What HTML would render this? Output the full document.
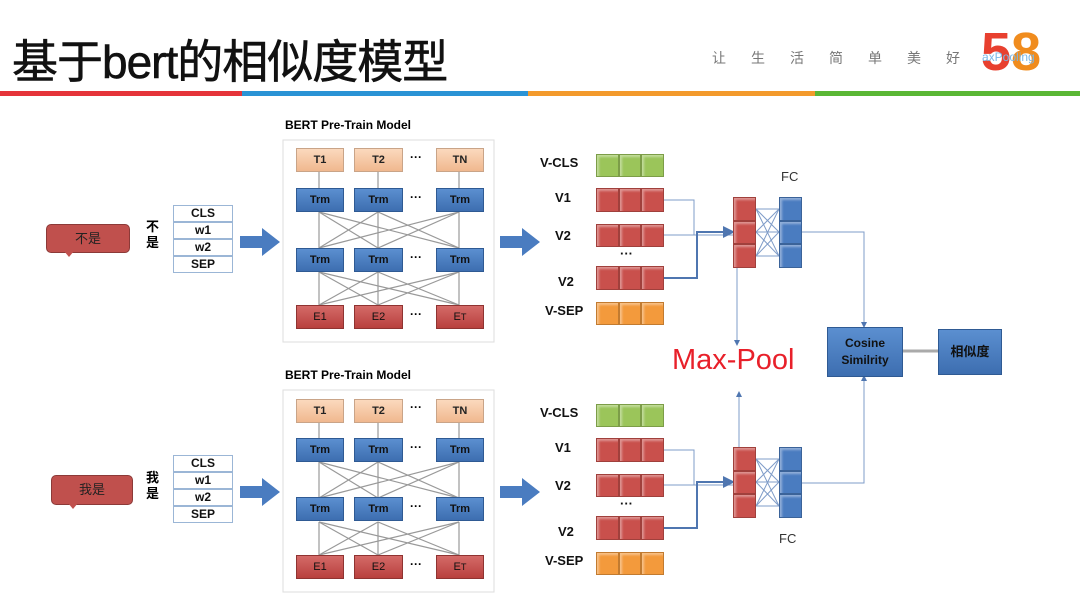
<!DOCTYPE html>
<html><head><meta charset="utf-8"><style>
body{margin:0;width:1080px;height:606px;background:#fff;position:relative;overflow:hidden;font-family:"Liberation Sans","Noto Sans CJK SC",sans-serif}
.a{position:absolute}
.t{background:linear-gradient(#fbd9bd,#f0b88f);border:1px solid #c9a488;font-size:11px;font-weight:bold;text-align:center;line-height:22px;color:#222}
.m{background:linear-gradient(#5b8fd0,#3d6eb0);border:1px solid #2f5a93;font-size:11px;font-weight:bold;text-align:center;line-height:22px;color:#111}
.e{background:linear-gradient(#d46a68,#b8403d);border:1px solid #8f3331;font-size:11px;text-align:center;line-height:22px;color:#111}
.lbl{font-size:13px;font-weight:bold;color:#111}
.bar{display:flex}
.bar div{flex:1;border:1px solid rgba(0,0,0,.2);box-shadow:inset 2px 2px 2px rgba(255,255,255,.4)}
.tok{border:1px solid #9bb6d6;font-size:12px;font-weight:bold;text-align:center;line-height:15px;height:15px;width:58px;color:#111}
.d{position:absolute;font-size:12px;font-weight:bold}
</style></head><body>
<div class="a" style="left:12px;top:26px;font-size:46px;color:#111;letter-spacing:-1px;-webkit-text-stroke:0.6px #111">基于bert的相似度模型</div>
<div class="a" style="left:712px;top:48px;font-size:14px;color:#777;letter-spacing:25px">让生活简单美好</div>
<div class="a" style="left:981px;top:26px;font-size:54px;font-weight:bold;line-height:52px"><span style="color:#e8402f">5</span><span style="color:#f08c1e">8</span></div>
<div class="a" style="left:982px;top:50px;font-size:12px;color:#7ab8e8">axPooling</div>
<div class="a" style="left:0;top:91px;width:242px;height:5px;background:#e5343a"></div>
<div class="a" style="left:242px;top:91px;width:286px;height:5px;background:#2a93d5"></div>
<div class="a" style="left:528px;top:91px;width:287px;height:5px;background:#f39a2c"></div>
<div class="a" style="left:815px;top:91px;width:265px;height:5px;background:#5ab735"></div>

<svg class="a" style="left:0;top:0" width="1080" height="606">
<defs><marker id="ar" markerWidth="6" markerHeight="6" refX="5" refY="3" orient="auto"><path d="M0,0L6,3L0,6z" fill="#4f76b0"/></marker></defs>
<g id="bert1">
<rect x="283" y="140" width="211" height="202" fill="none" stroke="#ddd"/>
<g stroke="#999" stroke-width="1.2">
<line x1="319" y1="172" x2="319" y2="188"/><line x1="378" y1="172" x2="378" y2="188"/><line x1="459" y1="172" x2="459" y2="188"/>
<line x1="319" y1="212" x2="319" y2="248"/><line x1="378" y1="212" x2="378" y2="248"/><line x1="459" y1="212" x2="459" y2="248"/>
<line x1="319" y1="212" x2="378" y2="248"/><line x1="319" y1="212" x2="459" y2="248"/><line x1="378" y1="212" x2="319" y2="248"/><line x1="378" y1="212" x2="459" y2="248"/><line x1="459" y1="212" x2="319" y2="248"/><line x1="459" y1="212" x2="378" y2="248"/>
<line x1="319" y1="272" x2="319" y2="305"/><line x1="378" y1="272" x2="378" y2="305"/><line x1="459" y1="272" x2="459" y2="305"/>
<line x1="319" y1="272" x2="378" y2="305"/><line x1="319" y1="272" x2="459" y2="305"/><line x1="378" y1="272" x2="319" y2="305"/><line x1="378" y1="272" x2="459" y2="305"/><line x1="459" y1="272" x2="319" y2="305"/><line x1="459" y1="272" x2="378" y2="305"/>
</g></g>
<use href="#bert1" y="250"/>
<polygon points="240,236 262,236 262,228 280,242 262,256 262,248 240,248" fill="#4a7cc0"/>
<polygon points="240,486 262,486 262,478 280,492 262,506 262,498 240,498" fill="#4a7cc0"/>
<polygon points="500,236 522,236 522,228 540,242 522,256 522,248 500,248" fill="#4a7cc0"/>
<polygon points="500,486 522,486 522,478 540,492 522,506 522,498 500,498" fill="#4a7cc0"/>
<g id="fc1" fill="none" stroke="#7f9cc8" stroke-width="1">
<polyline points="664,200 694,200 694,235"/>
<line x1="664" y1="235" x2="733" y2="235"/>
<polyline points="664,278 697,278 697,232 733,232" stroke="#4f76b0" stroke-width="2" marker-end="url(#ar)"/>
<line x1="756" y1="209" x2="779" y2="209"/><line x1="756" y1="209" x2="779" y2="232"/><line x1="756" y1="209" x2="779" y2="256"/>
<line x1="756" y1="232" x2="779" y2="209"/><line x1="756" y1="232" x2="779" y2="232"/><line x1="756" y1="232" x2="779" y2="256"/>
<line x1="756" y1="256" x2="779" y2="209"/><line x1="756" y1="256" x2="779" y2="232"/><line x1="756" y1="256" x2="779" y2="256"/>
</g>
<use href="#fc1" y="250"/>
<g fill="none" stroke="#7f9cc8" stroke-width="1">
<line x1="737" y1="268" x2="737" y2="345" marker-end="url(#ar)"/>
<line x1="739" y1="447" x2="739" y2="392" marker-end="url(#ar)"/>
<polyline points="802,232 864,232 864,327" marker-end="url(#ar)"/>
<polyline points="802,483 864,483 864,376" marker-end="url(#ar)"/>
<line x1="902" y1="351" x2="938" y2="351" stroke="#aaa" stroke-width="3"/>
</g>
</svg>

<div class="a" style="left:285px;top:118px;font-size:12px;font-weight:bold">BERT Pre-Train Model</div>
<div class="a" style="left:285px;top:368px;font-size:12px;font-weight:bold">BERT Pre-Train Model</div>

<div class="a t" style="left:296px;top:148px;width:46px;height:22px">T1</div>
<div class="a t" style="left:354px;top:148px;width:47px;height:22px">T2</div>
<div class="a t" style="left:436px;top:148px;width:46px;height:22px">TN</div>
<div class="a m" style="left:296px;top:188px;width:46px;height:22px">Trm</div>
<div class="a m" style="left:354px;top:188px;width:47px;height:22px">Trm</div>
<div class="a m" style="left:436px;top:188px;width:46px;height:22px">Trm</div>
<div class="a m" style="left:296px;top:248px;width:46px;height:22px">Trm</div>
<div class="a m" style="left:354px;top:248px;width:47px;height:22px">Trm</div>
<div class="a m" style="left:436px;top:248px;width:46px;height:22px">Trm</div>
<div class="a e" style="left:296px;top:305px;width:46px;height:22px">E1</div>
<div class="a e" style="left:354px;top:305px;width:47px;height:22px">E2</div>
<div class="a e" style="left:436px;top:305px;width:46px;height:22px">E<small>T</small></div>
<div class="d" style="left:410px;top:150px">···</div>
<div class="d" style="left:410px;top:190px">···</div>
<div class="d" style="left:410px;top:250px">···</div>
<div class="d" style="left:410px;top:307px">···</div>

<div class="a t" style="left:296px;top:399px;width:46px;height:22px">T1</div>
<div class="a t" style="left:354px;top:399px;width:47px;height:22px">T2</div>
<div class="a t" style="left:436px;top:399px;width:46px;height:22px">TN</div>
<div class="a m" style="left:296px;top:438px;width:46px;height:22px">Trm</div>
<div class="a m" style="left:354px;top:438px;width:47px;height:22px">Trm</div>
<div class="a m" style="left:436px;top:438px;width:46px;height:22px">Trm</div>
<div class="a m" style="left:296px;top:497px;width:46px;height:22px">Trm</div>
<div class="a m" style="left:354px;top:497px;width:47px;height:22px">Trm</div>
<div class="a m" style="left:436px;top:497px;width:46px;height:22px">Trm</div>
<div class="a e" style="left:296px;top:555px;width:46px;height:22px">E1</div>
<div class="a e" style="left:354px;top:555px;width:47px;height:22px">E2</div>
<div class="a e" style="left:436px;top:555px;width:46px;height:22px">E<small>T</small></div>
<div class="d" style="left:410px;top:400px">···</div>
<div class="d" style="left:410px;top:440px">···</div>
<div class="d" style="left:410px;top:499px">···</div>
<div class="d" style="left:410px;top:557px">···</div>

<div class="a" style="left:46px;top:224px;width:82px;height:27px;background:#c0504d;border:1px solid #8c3a38;border-radius:5px;font-size:13px;text-align:center;line-height:27px;color:#222">不是</div>
<div class="a" style="left:64px;top:251px;width:0;height:0;border-left:5px solid transparent;border-right:5px solid transparent;border-top:6px solid #c0504d"></div>
<div class="a" style="left:51px;top:475px;width:80px;height:28px;background:#c0504d;border:1px solid #8c3a38;border-radius:5px;font-size:13px;text-align:center;line-height:28px;color:#222">我是</div>
<div class="a" style="left:68px;top:503px;width:0;height:0;border-left:5px solid transparent;border-right:5px solid transparent;border-top:6px solid #c0504d"></div>
<div class="a" style="left:146px;top:219px;font-size:13px;font-weight:bold;line-height:16px">不<br>是</div>
<div class="a" style="left:146px;top:470px;font-size:13px;font-weight:bold;line-height:16px">我<br>是</div>
<div class="a" style="left:173px;top:205px">
<div class="tok">CLS</div><div class="tok">w1</div><div class="tok">w2</div><div class="tok">SEP</div></div>
<div class="a" style="left:173px;top:455px">
<div class="tok">CLS</div><div class="tok">w1</div><div class="tok">w2</div><div class="tok">SEP</div></div>

<div class="a lbl" style="left:540px;top:155px">V-CLS</div>
<div class="a lbl" style="left:555px;top:190px">V1</div>
<div class="a lbl" style="left:555px;top:228px">V2</div>
<div class="a lbl" style="left:620px;top:246px">···</div>
<div class="a lbl" style="left:558px;top:274px">V2</div>
<div class="a lbl" style="left:545px;top:303px">V-SEP</div>
<div class="a bar" style="left:596px;top:154px;width:68px;height:23px;background:#9bc55a"><div></div><div></div><div></div></div>
<div class="a bar" style="left:596px;top:188px;width:68px;height:24px;background:#c9504c"><div></div><div></div><div></div></div>
<div class="a bar" style="left:596px;top:224px;width:68px;height:23px;background:#c9504c"><div></div><div></div><div></div></div>
<div class="a bar" style="left:596px;top:266px;width:68px;height:24px;background:#c9504c"><div></div><div></div><div></div></div>
<div class="a bar" style="left:596px;top:302px;width:68px;height:23px;background:#f39a3c"><div></div><div></div><div></div></div>
<div class="a lbl" style="left:540px;top:405px">V-CLS</div>
<div class="a lbl" style="left:555px;top:440px">V1</div>
<div class="a lbl" style="left:555px;top:478px">V2</div>
<div class="a lbl" style="left:620px;top:496px">···</div>
<div class="a lbl" style="left:558px;top:524px">V2</div>
<div class="a lbl" style="left:545px;top:553px">V-SEP</div>
<div class="a bar" style="left:596px;top:404px;width:68px;height:23px;background:#9bc55a"><div></div><div></div><div></div></div>
<div class="a bar" style="left:596px;top:438px;width:68px;height:24px;background:#c9504c"><div></div><div></div><div></div></div>
<div class="a bar" style="left:596px;top:474px;width:68px;height:23px;background:#c9504c"><div></div><div></div><div></div></div>
<div class="a bar" style="left:596px;top:516px;width:68px;height:24px;background:#c9504c"><div></div><div></div><div></div></div>
<div class="a bar" style="left:596px;top:552px;width:68px;height:23px;background:#f39a3c"><div></div><div></div><div></div></div>

<div class="a bar" style="left:733px;top:197px;width:23px;height:71px;flex-direction:column;background:#c9504c"><div></div><div></div><div></div></div>
<div class="a bar" style="left:779px;top:197px;width:23px;height:71px;flex-direction:column;background:#4a7cc0"><div></div><div></div><div></div></div>
<div class="a bar" style="left:733px;top:447px;width:23px;height:71px;flex-direction:column;background:#c9504c"><div></div><div></div><div></div></div>
<div class="a bar" style="left:779px;top:447px;width:23px;height:71px;flex-direction:column;background:#4a7cc0"><div></div><div></div><div></div></div>
<div class="a" style="left:781px;top:169px;font-size:13px;color:#333">FC</div>
<div class="a" style="left:779px;top:531px;font-size:13px;color:#333">FC</div>
<div class="a" style="left:672px;top:344px;font-size:29px;color:#e8202a">Max-Pool</div>

<div class="a m" style="left:827px;top:327px;width:74px;height:48px;line-height:17px;font-size:12px;display:flex;align-items:center;justify-content:center">Cosine<br>Similrity</div>
<div class="a m" style="left:938px;top:329px;width:62px;height:44px;line-height:44px;font-size:13px">相似度</div>
</body></html>
